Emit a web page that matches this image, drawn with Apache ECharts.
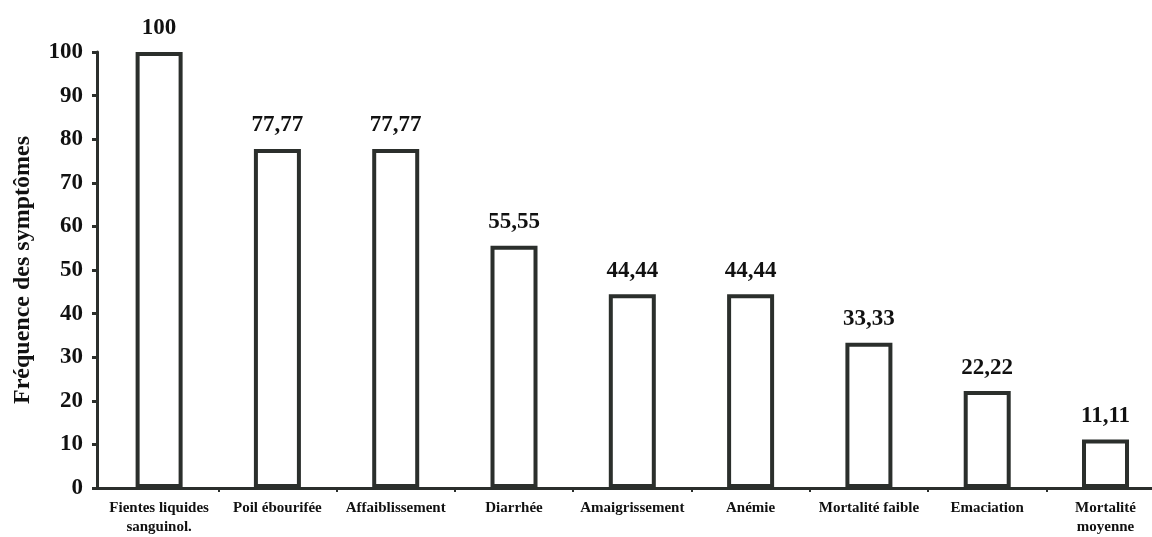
<!DOCTYPE html>
<html>
<head>
<meta charset="utf-8">
<script src="https://cdn.jsdelivr.net/npm/echarts@6/dist/echarts.min.js"></script>
<style>
html,body{margin:0;padding:0;background:#fff;}
#chart{width:1152px;height:537px;}
</style>
</head>
<body>
<div id="chart"></div>
<script>
var categories = ["Fientes liquides\nsanguinol.", "Poil ébourifée", "Affaiblissement", "Diarrhée", "Amaigrissement", "Anémie", "Mortalité faible", "Emaciation", "Mortalité\nmoyenne"];
var values = [100, 77.77, 77.77, 55.55, 44.44, 44.44, 33.33, 22.22, 11.11];
var valueLabels = ["100", "77,77", "77,77", "55,55", "44,44", "44,44", "33,33", "22,22", "11,11"];
var yTicks = [0, 10, 20, 30, 40, 50, 60, 70, 80, 90, 100];
var yAxisTitle = "Fréquence des symptômes";

var ink = '#2b2f2c';
var font = '"Liberation Serif", "Times New Roman", serif';

// category positions on a value x axis (last band is cropped by the page edge)
var centers = categories.map(function (c, i) { return i; });
var boundaries = categories.slice(1).map(function (c, i) { return i + 0.5; });
var barData = values.map(function (v, i) { return [centers[i], v]; });

var chart = echarts.init(document.getElementById('chart'));
chart.setOption({
  backgroundColor: '#ffffff',
  animation: false,
  grid: {left: 97, top: 52, right: 0, bottom: 49, containLabel: false},
  xAxis: {
    type: 'value',
    min: -0.525,
    max: 8.393,
    splitLine: {show: false},
    axisLine: {show: true, onZero: false, lineStyle: {color: ink, width: 3}},
    axisTick: {show: true, length: 4, customValues: boundaries, lineStyle: {color: ink, width: 2}},
    axisLabel: {
      customValues: centers,
      color: '#111', fontFamily: font, fontWeight: 'bold', fontSize: 15, margin: 11, lineHeight: 19,
      showMinLabel: true, showMaxLabel: true, hideOverlap: false,
      formatter: function (v) { return categories[Math.round(v)]; }
    }
  },
  yAxis: {
    type: 'value',
    min: yTicks[0],
    max: yTicks[yTicks.length - 1],
    interval: 10,
    name: yAxisTitle,
    nameLocation: 'middle',
    nameGap: 62,
    nameTextStyle: {color: '#111', fontFamily: font, fontWeight: 'bold', fontSize: 24},
    axisLine: {show: true, onZero: false, lineStyle: {color: ink, width: 3}},
    axisTick: {show: true, length: 5, lineStyle: {color: ink, width: 3}},
    splitLine: {show: false},
    axisLabel: {color: '#111', fontFamily: font, fontWeight: 'bold', fontSize: 23, margin: 14}
  },
  series: [{
    type: 'bar',
    data: barData,
    barWidth: 47,
    clip: false,
    itemStyle: {color: '#ffffff', borderColor: ink, borderWidth: 4},
    label: {
      show: true,
      position: 'top',
      distance: 12,
      color: '#111',
      fontFamily: font,
      fontWeight: 'bold',
      fontSize: 23,
      formatter: function (p) { return valueLabels[p.dataIndex]; }
    }
  }]
});
</script>
</body>
</html>
